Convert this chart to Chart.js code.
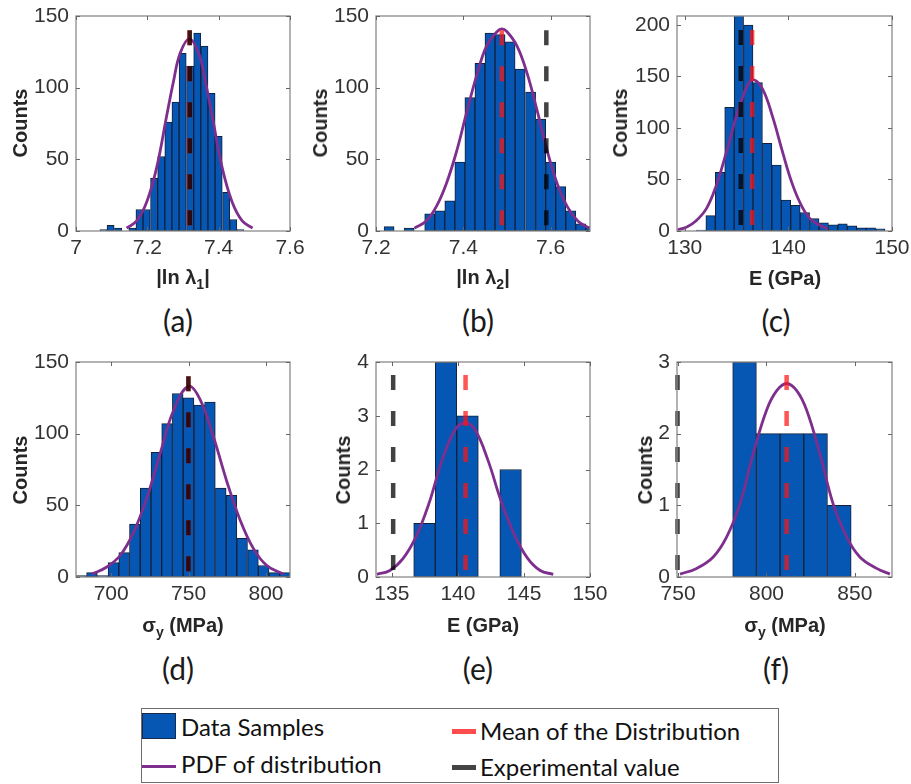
<!DOCTYPE html>
<html>
<head>
<meta charset="utf-8">
<script src="https://cdn.jsdelivr.net/npm/chart.js@4.4.1/dist/chart.umd.min.js"></script>
<style>
  html, body { margin:0; padding:0; background:#fff; }
  body { width:911px; height:784px; overflow:hidden; position:relative; font-family:"Liberation Sans", Arial, sans-serif; }
  .xt { position:absolute; transform:translate(-50%,-50%); font-weight:bold; font-size:20px; color:#262626; white-space:nowrap; line-height:1; }
  .xt sub { font-size:14px; vertical-align:-5px; line-height:0; }
  .yt { position:absolute; transform:translate(-50%,-50%) rotate(-90deg); font-weight:bold; font-size:20px; color:#262626; white-space:nowrap; line-height:1; }
  .pl { position:absolute; transform:translate(-50%,-50%); font-family:Lato, "Open Sans", sans-serif; font-size:30px; color:#1a1a1a; line-height:1; }
  .lg { position:absolute; transform:translateY(-50%); font-family:Lato, "Open Sans", sans-serif; font-size:24px; color:#111; white-space:nowrap; line-height:1; }
  .sw { position:absolute; }
</style>
</head>
<body>
<script>
// ---------------- DATA ----------------
// (a) |ln lambda1|
const aBinCenters = [7.077, 7.097, 7.118, 7.138, 7.158, 7.178, 7.198, 7.219, 7.239, 7.259, 7.279, 7.299, 7.320, 7.340, 7.360, 7.380, 7.400, 7.421, 7.441, 7.461];
const aCounts     = [1, 4, 2, 0, 2, 15, 15, 37, 52, 76, 90, 124, 115, 138, 129, 96, 66, 27, 8, 1];
const aPdfX = [7.142, 7.170, 7.198, 7.226, 7.254, 7.273, 7.292, 7.318, 7.344, 7.363, 7.382, 7.410, 7.438, 7.466, 7.495];
const aPdfY = [2, 7, 20, 44, 80, 104, 124, 134, 124, 104, 80, 44, 20, 7, 2];
const aMean = 7.318, aExp = 7.319, aLineTop = 140;
const aXTicks = [7, 7.2, 7.4, 7.6], aXTickLabels = ['7', '7.2', '7.4', '7.6'];
const aYTicks = [0, 50, 100, 150], aYTickLabels = ['0', '50', '100', '150'];

// (b) |ln lambda2|
const bBinCenters = [7.230, 7.253, 7.276, 7.299, 7.323, 7.346, 7.369, 7.392, 7.415, 7.438, 7.461, 7.484, 7.507, 7.530, 7.554, 7.577, 7.600, 7.623, 7.646, 7.669, 7.692];
const bCounts     = [3, 0, 2, 0, 12, 14, 21, 48, 93, 117, 138, 137, 132, 113, 97, 78, 48, 31, 14, 5, 3];
const bPdfX = [7.288, 7.315, 7.338, 7.361, 7.384, 7.407, 7.430, 7.453, 7.477, 7.488, 7.500, 7.523, 7.546, 7.569, 7.592, 7.615, 7.638, 7.662, 7.688];
const bPdfY = [2, 7, 17, 33, 55, 82, 108, 129, 139, 141, 139, 129, 110, 84, 56, 33, 17, 7, 2];
const bMean = 7.488, bExp = 7.590, bLineTop = 140;
const bXTicks = [7.2, 7.4, 7.6], bXTickLabels = ['7.2', '7.4', '7.6'];
const bYTicks = [0, 50, 100, 150], bYTickLabels = ['0', '50', '100', '150'];

// (c) E (GPa)
const cBinCenters = [131.58, 132.49, 133.40, 134.31, 135.22, 136.13, 137.04, 137.95, 138.86, 139.77, 140.68, 141.59, 142.50, 143.41, 144.32, 145.23, 146.14, 147.05, 147.96, 148.87];
const cCounts     = [1, 15, 57, 120, 210, 200, 144, 85, 64, 30, 25, 18, 12, 8, 6, 7, 5, 3, 3, 2];
const cPdfX = [129.3, 130.2, 131.1, 132.1, 133.0, 134.0, 135.0, 135.9, 136.55, 137.5, 138.5, 139.4, 140.4, 141.4, 142.3, 143.8];
const cPdfY = [1, 4, 10, 22, 43, 76, 112, 138, 147, 138, 110, 78, 45, 22, 10, 2];
const cMean = 136.5, cExp = 135.4, cLineTop = 195;
const cXTicks = [130, 140, 150], cXTickLabels = ['130', '140', '150'];
const cYTicks = [0, 50, 100, 150, 200], cYTickLabels = ['0', '50', '100', '150', '200'];

// (d) sigma_y (MPa)
const dBinCenters = [680.7, 687.6, 694.5, 701.5, 708.4, 715.3, 722.3, 729.2, 736.1, 743.0, 750.0, 756.9, 763.8, 770.8, 777.7, 784.6, 791.6, 798.5, 805.4, 812.3];
const dCounts     = [1, 3, 1, 10, 17, 37, 62, 87, 107, 128, 125, 120, 122, 62, 57, 27, 19, 8, 3, 3];
const dPdfX = [687.5, 697.2, 705.8, 714.4, 723.0, 731.6, 740.2, 749.9, 757.4, 766.0, 774.6, 783.2, 791.8, 800.5, 811.2];
const dPdfY = [2, 7, 15, 31, 55, 86, 116, 133, 124, 98, 67, 40, 20, 8, 2];
const dMean = 749.9, dExp = 749.9, dLineTop = 140;
const dXTicks = [700, 750, 800], dXTickLabels = ['700', '750', '800'];
const dYTicks = [0, 50, 100, 150], dYTickLabels = ['0', '50', '100', '150'];

// (e) E (GPa), experimental set
const eBinCenters = [137.47, 139.10, 140.73, 142.36, 143.99];
const eCounts     = [1, 4, 3, 0, 2];
const ePdfX = [133.87, 134.85, 135.84, 136.83, 137.81, 138.80, 139.79, 140.55, 141.30, 142.28, 143.26, 144.25, 145.24, 146.23, 147.22];
const ePdfY = [0.05, 0.12, 0.34, 0.75, 1.37, 2.17, 2.74, 2.87, 2.74, 2.17, 1.42, 0.80, 0.36, 0.12, 0.05];
const eMean = 140.58, eExp = 135.1, eLineTop = 3.76;
const eXTicks = [135, 140, 145, 150], eXTickLabels = ['135', '140', '145', '150'];
const eYTicks = [0, 1, 2, 3, 4], eYTickLabels = ['0', '1', '2', '3', '4'];

// (f) sigma_y (MPa), experimental set
const fBinCenters = [787.6, 801.0, 814.4, 827.8, 841.2];
const fCounts     = [3, 2, 2, 2, 1];
const fPdfX = [751.1, 760.5, 769.9, 777.5, 785.0, 792.5, 800.1, 805.8, 811.4, 817.1, 822.7, 830.2, 837.7, 845.3, 852.8, 862.3, 869.8];
const fPdfY = [0.04, 0.12, 0.28, 0.56, 1.02, 1.72, 2.33, 2.60, 2.70, 2.60, 2.33, 1.72, 1.02, 0.56, 0.28, 0.12, 0.04];
const fMean = 811.4, fExp = 749.7, fLineTop = 2.82;
const fXTicks = [750, 800, 850], fXTickLabels = ['750', '800', '850'];
const fYTicks = [0, 1, 2, 3], fYTickLabels = ['0', '1', '2', '3'];

// ---------------- STYLE / LAYOUT ----------------
const BAR_FILL = '#0657b3', BAR_EDGE = '#14203a', PDF_COLOR = '#7e2f8e';
const MEAN_COLOR = 'rgba(255,20,20,0.72)', EXP_COLOR = 'rgba(0,0,0,0.74)';
const PAD_L = 60, PAD_T = 22, PAD_R = 32, PAD_B = 40;

const boxPlugin = {
  id: 'matlabBox',
  afterDraw(chart) {
    const { ctx, chartArea: a, scales: { x, y } } = chart;
    ctx.save();
    ctx.strokeStyle = '#8a8a8a';
    ctx.lineWidth = 1.3;
    ctx.strokeRect(a.left, a.top, a.right - a.left, a.bottom - a.top);
    ctx.strokeStyle = '#666';
    ctx.lineWidth = 1;
    const L = 4;
    ctx.beginPath();
    x.ticks.forEach(t => {
      const p = Math.round(x.getPixelForValue(t.value)) + 0.5;
      ctx.moveTo(p, a.bottom); ctx.lineTo(p, a.bottom - L);
      ctx.moveTo(p, a.top); ctx.lineTo(p, a.top + L);
    });
    y.ticks.forEach(t => {
      const p = Math.round(y.getPixelForValue(t.value)) + 0.5;
      ctx.moveTo(a.left, p); ctx.lineTo(a.left + L, p);
      ctx.moveTo(a.right, p); ctx.lineTo(a.right - L, p);
    });
    ctx.stroke();
    ctx.restore();
  }
};

function buildPanel(p) {
  const cv = document.createElement('canvas');
  const W = p.w + PAD_L + PAD_R, H = p.h + PAD_T + PAD_B;
  cv.width = W; cv.height = H;
  cv.style.cssText = `position:absolute;left:${p.left - PAD_L}px;top:${p.top - PAD_T}px;width:${W}px;height:${H}px;`;
  document.body.appendChild(cv);
  const tickFont = { family: '"Liberation Sans", Arial, sans-serif', size: 21 };
  new Chart(cv, {
    type: 'bar',
    data: {
      datasets: [
        { type: 'line', label: 'Experimental value', data: [{ x: p.exp, y: p.top2 }, { x: p.exp, y: 0 }],
          borderColor: EXP_COLOR, borderWidth: 4.5, borderDash: [15, 21], pointRadius: 0, order: 0, clip: false },
        { type: 'line', label: 'Mean of the Distribution', data: [{ x: p.mean, y: p.top2 }, { x: p.mean, y: 0 }],
          borderColor: MEAN_COLOR, borderWidth: 4.5, borderDash: [15, 21], pointRadius: 0, order: 1, clip: false },
        { type: 'line', label: 'PDF of distribution', data: p.pdfX.map((v, i) => ({ x: v, y: p.pdfY[i] })),
          borderColor: PDF_COLOR, borderWidth: 2.8, pointRadius: 0, tension: 0.4, order: 2 },
        { type: 'bar', label: 'Data Samples', data: p.centers.map((v, i) => ({ x: v, y: p.counts[i] })),
          backgroundColor: BAR_FILL, borderColor: BAR_EDGE, borderWidth: 1, borderSkipped: false,
          barPercentage: 1, categoryPercentage: 1, order: 3 }
      ]
    },
    options: {
      responsive: false, animation: false, devicePixelRatio: 1,
      layout: { padding: { left: 0, top: PAD_T, right: PAD_R, bottom: 0 } },
      plugins: { legend: { display: false }, tooltip: { enabled: false } },
      scales: {
        x: {
          type: 'linear', min: p.xMin, max: p.xMax, offset: false,
          grid: { display: false, drawTicks: false }, border: { display: false },
          afterBuildTicks: s => { s.ticks = p.xTicks.map(v => ({ value: v })); },
          afterFit: s => { s.height = PAD_B; },
          ticks: { autoSkip: false, maxRotation: 0, minRotation: 0, padding: 5, color: '#333', font: tickFont,
                   callback: (v, i) => p.xLabels[i] }
        },
        y: {
          type: 'linear', min: 0, max: p.yMax,
          grid: { display: false, drawTicks: false }, border: { display: false },
          afterBuildTicks: s => { s.ticks = p.yTicks.map(v => ({ value: v })); },
          afterFit: s => { s.width = PAD_L; },
          ticks: { autoSkip: false, padding: 7, color: '#333', font: tickFont,
                   callback: (v, i) => p.yLabels[i] }
        }
      }
    },
    plugins: [boxPlugin]
  });
}

const panels = [
  { left: 76,  top: 16,  w: 214, h: 215, xMin: 7,      xMax: 7.6,   yMax: 150,   xTicks: aXTicks, xLabels: aXTickLabels, yTicks: aYTicks, yLabels: aYTickLabels,
    centers: aBinCenters, counts: aCounts, pdfX: aPdfX, pdfY: aPdfY, mean: aMean, exp: aExp, top2: aLineTop },
  { left: 376, top: 16,  w: 214, h: 215, xMin: 7.2,    xMax: 7.69,  yMax: 150,   xTicks: bXTicks, xLabels: bXTickLabels, yTicks: bYTicks, yLabels: bYTickLabels,
    centers: bBinCenters, counts: bCounts, pdfX: bPdfX, pdfY: bPdfY, mean: bMean, exp: bExp, top2: bLineTop },
  { left: 677, top: 16,  w: 215, h: 215, xMin: 129.25, xMax: 150,   yMax: 208.7, xTicks: cXTicks, xLabels: cXTickLabels, yTicks: cYTicks, yLabels: cYTickLabels,
    centers: cBinCenters, counts: cCounts, pdfX: cPdfX, pdfY: cPdfY, mean: cMean, exp: cExp, top2: cLineTop },
  { left: 76,  top: 362, w: 214, h: 215, xMin: 677.3,  xMax: 815.5, yMax: 150,   xTicks: dXTicks, xLabels: dXTickLabels, yTicks: dYTicks, yLabels: dYTickLabels,
    centers: dBinCenters, counts: dCounts, pdfX: dPdfX, pdfY: dPdfY, mean: dMean, exp: dExp, top2: dLineTop },
  { left: 376, top: 362, w: 214, h: 215, xMin: 133.8,  xMax: 150,   yMax: 4,     xTicks: eXTicks, xLabels: eXTickLabels, yTicks: eYTicks, yLabels: eYTickLabels,
    centers: eBinCenters, counts: eCounts, pdfX: ePdfX, pdfY: ePdfY, mean: eMean, exp: eExp, top2: eLineTop },
  { left: 677, top: 362, w: 215, h: 215, xMin: 749.4,  xMax: 871,   yMax: 3,     xTicks: fXTicks, xLabels: fXTickLabels, yTicks: fYTicks, yLabels: fYTickLabels,
    centers: fBinCenters, counts: fCounts, pdfX: fPdfX, pdfY: fPdfY, mean: fMean, exp: fExp, top2: fLineTop }
];
panels.forEach(buildPanel);
</script>

<!-- axis titles -->
<div class="xt" style="left:183px;top:277px">|ln λ<sub>1</sub>|</div>
<div class="xt" style="left:483px;top:277px">|ln λ<sub>2</sub>|</div>
<div class="xt" style="left:785px;top:278px">E (GPa)</div>
<div class="xt" style="left:183px;top:625px">σ<sub>y</sub> (MPa)</div>
<div class="xt" style="left:483px;top:625px">E (GPa)</div>
<div class="xt" style="left:785px;top:625px">σ<sub>y</sub> (MPa)</div>

<div class="yt" style="left:20px;top:123px">Counts</div>
<div class="yt" style="left:320px;top:123px">Counts</div>
<div class="yt" style="left:620px;top:123px">Counts</div>
<div class="yt" style="left:20px;top:470px">Counts</div>
<div class="yt" style="left:343px;top:470px">Counts</div>
<div class="yt" style="left:645px;top:470px">Counts</div>

<!-- panel labels -->
<div class="pl" style="left:178px;top:320px">(a)</div>
<div class="pl" style="left:478px;top:320px">(b)</div>
<div class="pl" style="left:776px;top:320px">(c)</div>
<div class="pl" style="left:178px;top:668px">(d)</div>
<div class="pl" style="left:478px;top:668px">(e)</div>
<div class="pl" style="left:776px;top:668px">(f)</div>

<!-- legend -->
<div style="position:absolute;left:141px;top:708px;width:636px;height:73px;border:1px solid #6e6e6e;"></div>
<div class="sw" style="left:142px;top:713px;width:34px;height:26px;background:#0657b3;border:1px solid #1a2a4a;box-sizing:border-box;"></div>
<div class="lg" style="left:181px;top:727px">Data Samples</div>
<div class="sw" style="left:142px;top:765px;width:34px;height:3px;background:#7e2f8e;"></div>
<div class="lg" style="left:181px;top:764px">PDF of distribution</div>
<div class="sw" style="left:452px;top:729px;width:24px;height:5px;background:#ff4d4d;"></div>
<div class="lg" style="left:480px;top:731px">Mean of the Distribution</div>
<div class="sw" style="left:452px;top:765px;width:24px;height:5px;background:#444;"></div>
<div class="lg" style="left:480px;top:767px">Experimental value</div>
</body>
</html>
